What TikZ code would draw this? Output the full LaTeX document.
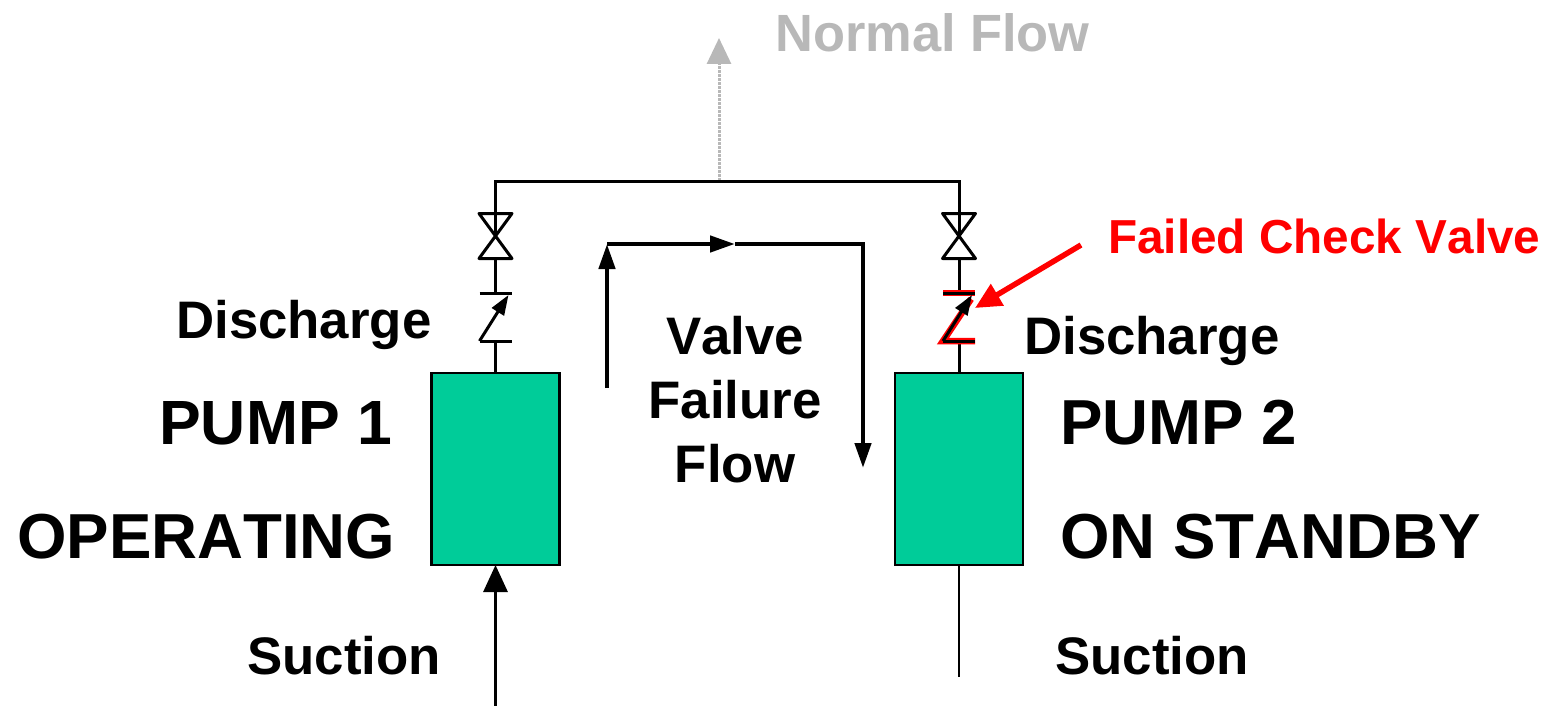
\documentclass[tikz,border=0pt]{standalone}
\usepackage{fontspec}
\setmainfont[Kerning=Off]{Liberation Sans}
\usetikzlibrary{arrows.meta,calc}
\definecolor{pumpgreen}{HTML}{00CC99}
\definecolor{failred}{HTML}{FF0000}
\definecolor{faded}{gray}{0.72}
\tikzset{
  pumpbox/.style={draw=black,line width=2.2pt,fill=pumpgreen,minimum width=128pt,minimum height=192pt,inner sep=0pt,outer sep=0pt},
  pipe/.style={draw=black,line width=3pt},
  valvepart/.style={draw=black,line width=3pt,line join=round},
  flowarrow/.style={draw=black,line width=4.5pt,-{Triangle[length=25pt,width=16pt]}},
  lblbig/.style={font=\fontsize{63.6}{63.6}\selectfont\bfseries,anchor=base west,inner sep=0pt},
  lblmid/.style={font=\fontsize{52.8}{52.8}\selectfont\bfseries,anchor=base west,inner sep=0pt},
  lblcentre/.style={font=\fontsize{52.8}{52.8}\selectfont\bfseries,anchor=base,inner sep=0pt},
}
\newcommand{\gatevalve}[1]{%
  \draw[valvepart] ($(#1)+(-16.5,-22.5)$) -- ($(#1)+(16.5,-22.5)$) -- ($(#1)+(-16.5,22.5)$) -- ($(#1)+(16.5,22.5)$) -- cycle;
}
\begin{document}
\begin{tikzpicture}[x=1pt,y=-1pt]
\useasboundingbox (0,0) rectangle (1547,706);
% pumps
\node[pumpbox] (pump1) at (495.5,469) {};
\node[pumpbox] (pump2) at (959,469) {};
% coordinates
\coordinate (top1) at (495.5,181);
\coordinate (top2) at (959,181);
\coordinate (tee) at (719,181);
\coordinate (normalend) at (719,38);
\coordinate (gv1) at (495.5,236);
\coordinate (gv2) at (959,236);
\coordinate (ck1t) at (495.5,293);
\coordinate (ck1b) at (495.5,341);
\coordinate (ck2t) at (959,293);
\coordinate (ck2b) at (959,341);
\coordinate (suc1) at (495.5,706);
\coordinate (suc2) at (959,677);
% normal flow (faded)
\draw[draw=faded,line width=3pt,densely dotted,-{Triangle[length=26pt,width=24pt,color=faded]}] (tee) -- (normalend);
\node[lblmid,text=faded,font=\fontsize{52.4}{52.4}\selectfont\bfseries] (normal) at (775,52) {Normal Flow};
% header
\draw[pipe,line join=miter] (gv1) -- (top1) -- (top2) -- (gv2);
\draw[pipe] (gv1) ++(0,22) -- (ck1t);
\draw[pipe] (gv2) ++(0,22) -- (ck2t);
\draw[pipe] (ck1b) -- (pump1.north);
\draw[pipe] (ck2b) -- (pump2.north);
% gate valves
\gatevalve{gv1}
\gatevalve{gv2}
% check valve 1
\draw[valvepart] ($(ck1t)+(-16,0)$) -- ($(ck1t)+(16,0)$);
\draw[valvepart] ($(ck1b)+(16,0)$) -- ($(ck1b)+(-16,0)$);
\draw[valvepart,-{Triangle[length=20pt,width=14pt]}] ($(ck1b)+(-16,0)$) -- ($(ck1t)+(13,2)$);
% check valve 2, red outline
\draw[failred,line width=6.5pt,line join=miter] ($(ck2t)+(-16,0)$) -- ($(ck2t)+(16,0)$);
\draw[failred,line width=6.5pt,line join=miter] ($(ck2b)+(16,0)$) -- ($(ck2b)+(-16,0)$) -- ($(ck2t)+(12,6)$);
\draw[valvepart] ($(ck2t)+(-16,0)$) -- ($(ck2t)+(16,0)$);
\draw[valvepart] ($(ck2b)+(16,0)$) -- ($(ck2b)+(-16,0)$);
\draw[valvepart,-{Triangle[length=20pt,width=14pt]}] ($(ck2b)+(-16,0)$) -- ($(ck2t)+(13,2)$);
% suction
\draw[draw=black,line width=3pt,-{Triangle[length=27pt,width=24pt]}] (suc1) -- (pump1.south);
\draw[draw=black,line width=1.8pt] (pump2.south) -- (suc2);
% failure flow
\coordinate (ff0) at (607,388);
\coordinate (ff1) at (607,244);
\coordinate (ff2) at (735,244);
\coordinate (ff3) at (863,244);
\coordinate (ff4) at (863,468);
\draw[flowarrow] (ff0) -- (ff1);
\draw[flowarrow] (ff1) -- (ff2);
\draw[flowarrow,line join=miter] (ff2) -- (ff3) -- (ff4);
% failed valve pointer
\coordinate (ptr0) at (1081,245);
\coordinate (ptr1) at (975,308);
\draw[failred,line width=5.5pt,-{Triangle[length=26pt,width=24pt]}] (ptr0) -- (ptr1);
% labels
\node[lblmid] (d1) at (176,338) {Discharge};
\node[lblmid] (d2) at (1024,354) {Discharge};
\node[lblmid] (s1) at (247,674) {Suction};
\node[lblmid] (s2) at (1055,674) {Suction};
\node[lblbig,font=\fontsize{62.5}{62.5}\selectfont\bfseries] (p1) at (159,444) {PUMP 1};
\node[lblbig] (p2) at (1060,444) {PUMP 2};
\node[lblbig] (op) at (17,558) {OPERATING};
\node[lblbig] (st) at (1060,558) {ON STANDBY};
\node[lblcentre] (v1) at (735,354) {Valve};
\node[lblcentre] (v2) at (735,418) {Failure};
\node[lblcentre] (v3) at (735,482) {Flow};
\node[lblmid,text=failred,font=\fontsize{47.7}{47.7}\selectfont\bfseries] (fc) at (1108,253) {Failed Check Valve};
\end{tikzpicture}
\end{document}
